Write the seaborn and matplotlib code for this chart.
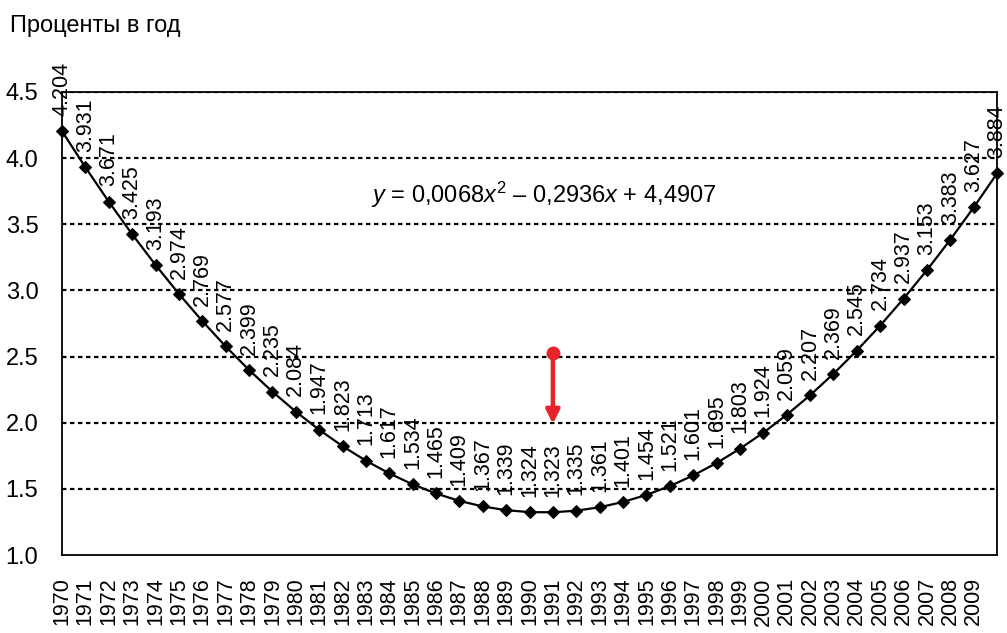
import numpy as np
import pandas as pd
import matplotlib
matplotlib.use("Agg")
import matplotlib.pyplot as plt
import seaborn as sns

# data: one point per year, plus a last unlabeled point
years = [str(y) for y in range(1970, 2010)]
rates = [4.204, 3.931, 3.671, 3.425, 3.193, 2.974, 2.769, 2.577, 2.399, 2.235,
         2.084, 1.947, 1.823, 1.713, 1.617, 1.534, 1.465, 1.409, 1.367, 1.339,
         1.324, 1.323, 1.335, 1.361, 1.401, 1.454, 1.521, 1.601, 1.695, 1.803,
         1.924, 2.059, 2.207, 2.369, 2.545, 2.734, 2.937, 3.153, 3.383, 3.627,
         3.884]
y_ticks = [1.0, 1.5, 2.0, 2.5, 3.0, 3.5, 4.0, 4.5]
equation = r"$\mathit{y}$ = 0,0068$\mathit{x}^2$ – 0,2936$\mathit{x}$ + 4,4907"
arrow_idx = 21
arrow_from, arrow_to = 2.53, 1.97

sns.set_style("white")
plt.rcParams["font.family"] = ["Liberation Sans", "DejaVu Sans"]
plt.rcParams["text.color"] = "black"
plt.rcParams["xtick.color"] = "black"
plt.rcParams["ytick.color"] = "black"
plt.rcParams["mathtext.fontset"] = "custom"
plt.rcParams["mathtext.rm"] = "Liberation Sans"
plt.rcParams["mathtext.it"] = "Liberation Sans:italic"

df = pd.DataFrame({"idx": np.arange(len(rates)), "rate": rates})

fig = plt.figure(figsize=(10.07, 6.33), dpi=100)
ax = fig.add_axes([62 / 1007, 1 - 555 / 633, (997 - 62) / 1007, (555 - 92) / 633])

ax.set_ylim(1.0, 4.5)
ax.set_xlim(0, len(rates) - 1)

# dotted grid lines
for yv in y_ticks[1:]:
    ax.axhline(yv, color="black", lw=1.6, ls=(0, (2, 1.6)), zorder=1)

sns.lineplot(data=df, x="idx", y="rate", color="black", lw=1.6,
             marker="D", markersize=6.5, markeredgecolor="black",
             ax=ax, zorder=3, clip_on=False)

for i, v in enumerate(rates):
    ax.annotate(f"{v}", (i, v), xytext=(0, 11),
                textcoords="offset points", rotation=90, ha="center",
                va="bottom", fontsize=15.5, annotation_clip=False, zorder=4)

# red arrow at the minimum
ax.annotate("", xy=(arrow_idx, arrow_to), xytext=(arrow_idx, arrow_from),
            arrowprops=dict(arrowstyle="-|>,head_width=0.4,head_length=0.8",
                            color="#e5252a", lw=3.2), zorder=5)
ax.plot([arrow_idx], [arrow_from], "o", color="#e5252a", ms=9, zorder=5)

ax.text(13.2, 3.66, equation, fontsize=17, ha="left", va="baseline")

ax.set_xticks(range(len(years)))
ax.set_xticklabels(years, rotation=90, fontsize=15.5)
ax.set_yticks(y_ticks)
ax.set_yticklabels([f"{t:.1f}" for t in y_ticks], fontsize=17)
ax.tick_params(axis="x", direction="out", length=6, width=1.2, pad=10)
ax.tick_params(axis="y", direction="out", length=5, width=1.2, pad=12)
ax.set_xlabel("")
ax.set_ylabel("")
for s in ax.spines.values():
    s.set_color("black")
    s.set_linewidth(1.3)

fig.text(10 / 1007, 1 - 32 / 633, "Проценты в год", fontsize=17,
         ha="left", va="baseline")

fig.savefig("out.png", dpi=100)
